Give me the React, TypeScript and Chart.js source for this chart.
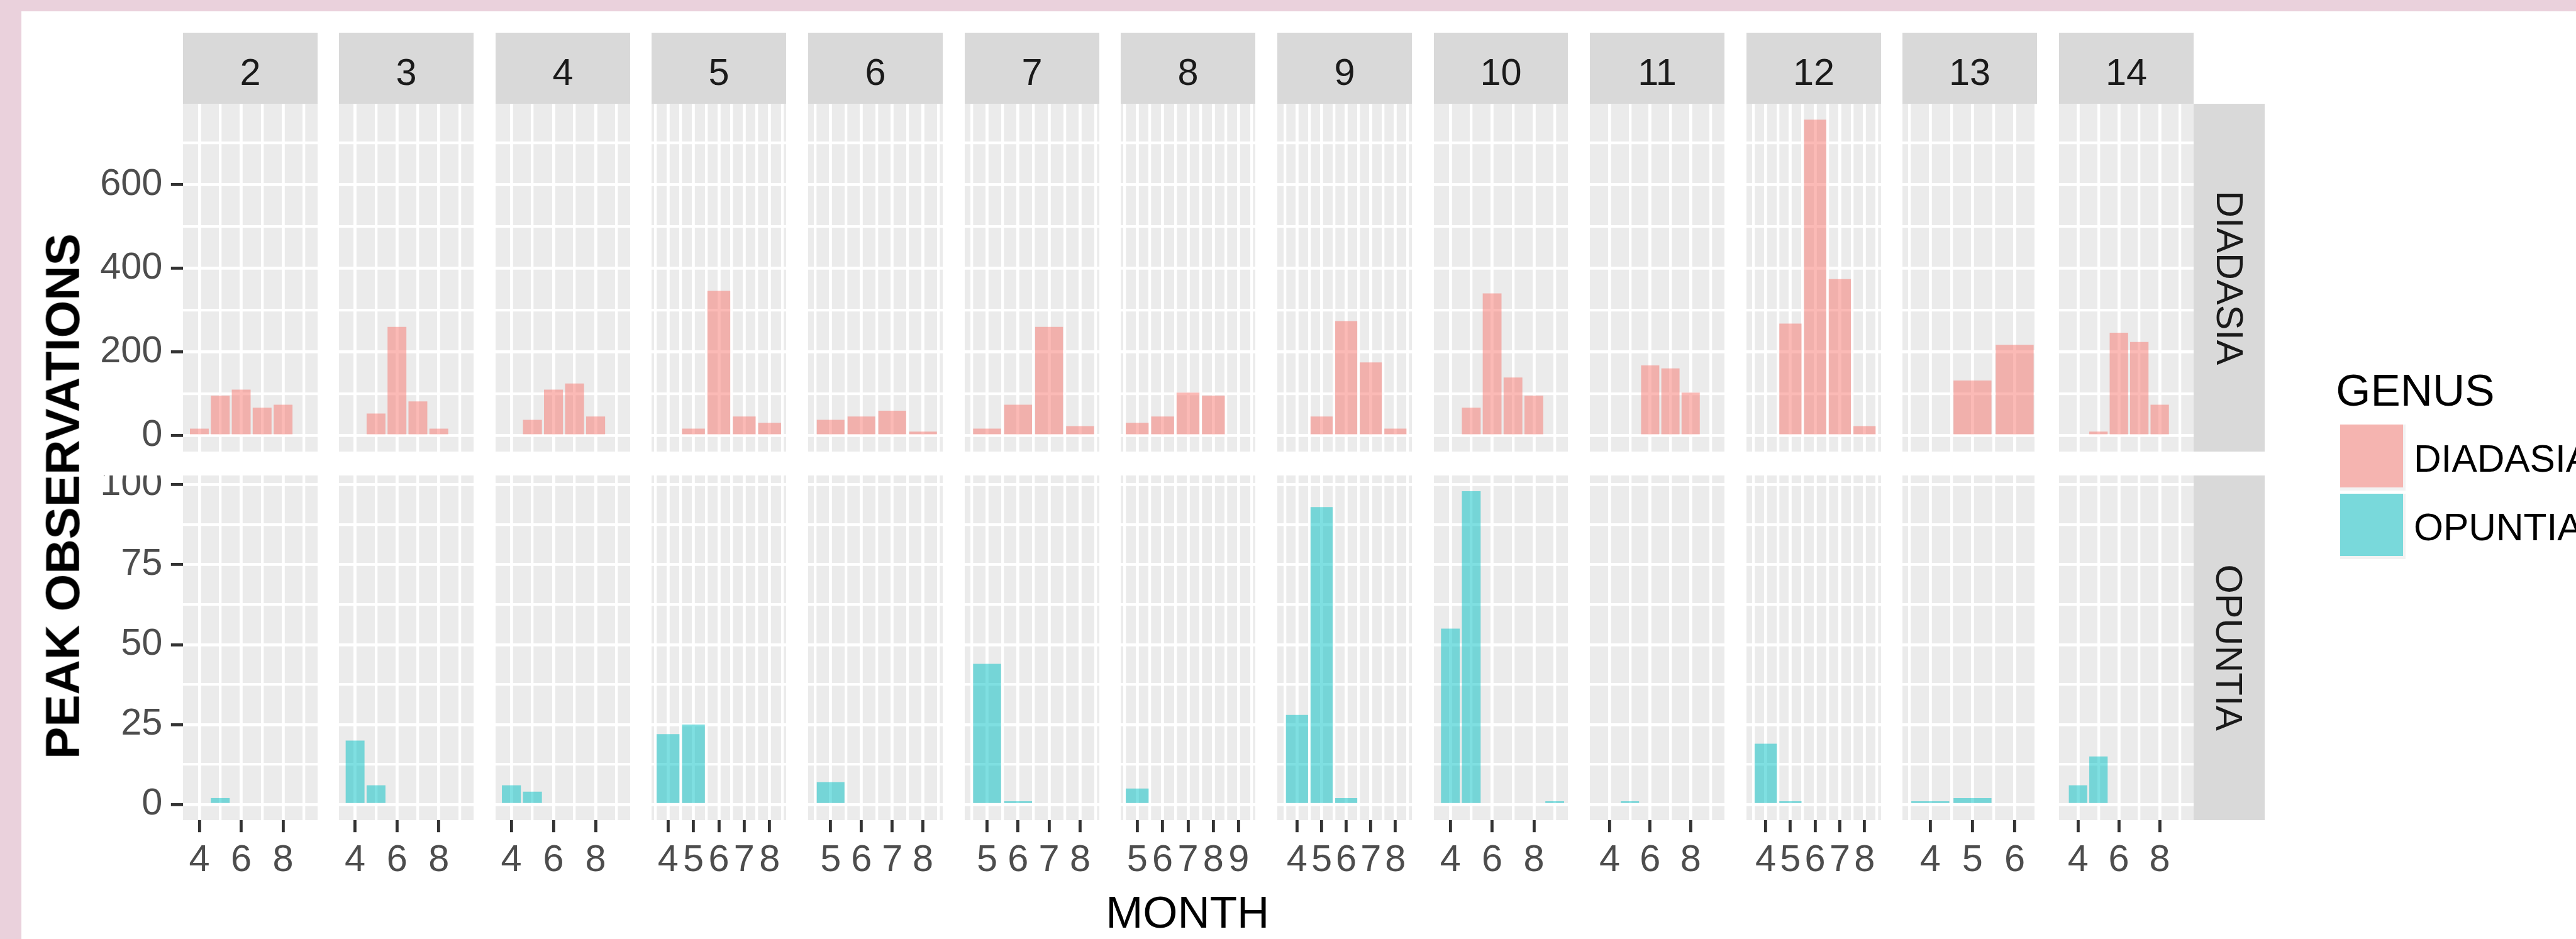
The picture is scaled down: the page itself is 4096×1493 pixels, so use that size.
import React, { useEffect, useRef } from "react";
import { Chart, registerables } from "chart.js";

Chart.register(...registerables);

// ---------------- data ----------------
const sites = ["2", "3", "4", "5", "6", "7", "8", "9", "10", "11", "12", "13", "14"];
const genera = ["DIADASIA", "OPUNTIA"];

// months shown in each site's panel
const siteMonths: number[][] = [
  [4, 5, 6, 7, 8, 9], // 2
  [4, 5, 6, 7, 8, 9], // 3
  [4, 5, 6, 7, 8, 9], // 4
  [4, 5, 6, 7, 8], // 5
  [5, 6, 7, 8], // 6
  [5, 6, 7, 8], // 7
  [5, 6, 7, 8, 9], // 8
  [4, 5, 6, 7, 8], // 9
  [4, 5, 6, 7, 8, 9], // 10
  [4, 5, 6, 7, 8, 9], // 11
  [4, 5, 6, 7, 8], // 12
  [4, 5, 6], // 13
  [4, 5, 6, 7, 8, 9], // 14
];

const diadasiaPeaks: number[][] = [
  [17, 96, 110, 67, 74, 0],
  [0, 53, 260, 82, 17, 0],
  [0, 38, 110, 125, 46, 0],
  [0, 17, 346, 46, 31],
  [38, 46, 60, 10],
  [17, 74, 260, 23],
  [31, 46, 103, 96, 0],
  [0, 46, 274, 175, 17],
  [0, 67, 340, 139, 96, 0],
  [0, 0, 168, 161, 103, 0],
  [0, 268, 755, 374, 23],
  [0, 132, 217],
  [0, 10, 246, 224, 74, 0],
];

const opuntiaPeaks: number[][] = [
  [0, 2, 0, 0, 0, 0],
  [20, 6, 0, 0, 0, 0],
  [6, 4, 0, 0, 0, 0],
  [22, 25, 0, 0, 0],
  [7, 0, 0, 0],
  [44, 1, 0, 0],
  [5, 0, 0, 0, 0],
  [28, 93, 2, 0, 0],
  [55, 98, 0, 0, 0, 1],
  [0, 1, 0, 0, 0, 0],
  [19, 1, 0, 0, 0],
  [1, 2, 0],
  [6, 15, 0, 0, 0, 0],
];

// month-axis limits of each column
const monthAxisLimits: [number, number][] = [
  [3.22, 9.65],
  [3.23, 9.66],
  [3.25, 9.64],
  [3.35, 8.65],
  [4.27, 8.64],
  [4.28, 8.62],
  [4.35, 9.65],
  [3.2, 8.67],
  [3.21, 9.63],
  [3.02, 9.67],
  [3.22, 8.67],
  [3.34, 6.53],
  [3.07, 9.66],
];

// month tick labels of each column
const monthBreaks: number[][] = [
  [4, 6, 8],
  [4, 6, 8],
  [4, 6, 8],
  [4, 5, 6, 7, 8],
  [5, 6, 7, 8],
  [5, 6, 7, 8],
  [5, 6, 7, 8, 9],
  [4, 5, 6, 7, 8],
  [4, 6, 8],
  [4, 6, 8],
  [4, 5, 6, 7, 8],
  [4, 5, 6],
  [4, 6, 8],
];

const diadasiaBreaks = [0, 200, 400, 600];
const opuntiaBreaks = [0, 25, 50, 75, 100];

// ---------------- styling / layout ----------------
const S = 4096 / 4270;
const p = (v: number) => v * S;
const FONT = '"Liberation Sans", Arial, Helvetica, sans-serif';
const genusColors = ["rgba(248,118,109,0.5)", "rgba(0,191,196,0.5)"];

const colLeft = (i: number) => 303 + i * 259.17;
const PANEL_W = 223;
const ROW_TOP = [172.5, 788];
const ROW_H = [575.5, 571];
const STRIP_TOP = 54;
const RSTRIP_W = 118;

const LW = Math.round(p(165));
const BH = Math.round(p(110));

const panelBg = {
  id: "panelBg",
  beforeDraw(chart: any) {
    const { ctx, chartArea: a } = chart;
    ctx.save();
    ctx.fillStyle = "#EBEBEB";
    ctx.fillRect(a.left, a.top, a.right - a.left, a.bottom - a.top);
    ctx.restore();
  },
};

const zeroPad = (s: any) => {
  s.paddingLeft = 0;
  s.paddingRight = 0;
  s.paddingTop = 0;
  s.paddingBottom = 0;
};

function minorOf(majors: number[], lo: number, hi: number) {
  const step = majors[1] - majors[0];
  return [majors[0] - step / 2, ...majors.map((v) => v + step / 2)].filter((v) => v > lo && v < hi);
}

function panelConfig(col: number, row: number): any {
  const months = siteMonths[col];
  const table = row === 0 ? diadasiaPeaks : opuntiaPeaks;
  const vals = table[col];
  const rowMax = Math.max(...table.map((r) => Math.max(...r)));
  const yMin = -0.05 * rowMax;
  const yMax = 1.05 * rowMax;
  const [xMin, xMax] = monthAxisLimits[col];
  const xMaj = monthBreaks[col];
  const xMinors = minorOf(xMaj, xMin, xMax);
  const yMaj = row === 0 ? diadasiaBreaks : opuntiaBreaks;
  const yMinors = minorOf(yMaj, yMin, yMax);
  const first = col === 0;
  const bottom = row === 1;
  const tickFont = { family: FONT, size: p(62) };

  return {
    type: "bar",
    data: {
      datasets: [
        {
          label: genera[row],
          data: months.map((m, i) => ({ x: m, y: vals[i] })),
          backgroundColor: genusColors[row],
          borderWidth: 0,
          barPercentage: 0.9,
          categoryPercentage: 1,
          xAxisID: "x",
          yAxisID: "y",
        },
      ],
    },
    options: {
      responsive: false,
      maintainAspectRatio: false,
      animation: false,
      devicePixelRatio: 1,
      events: [],
      layout: { padding: 0 },
      plugins: {
        legend: { display: false },
        tooltip: { enabled: false },
        title: { display: false },
      },
      scales: {
        xMinor: {
          type: "linear",
          position: "bottom",
          min: xMin,
          max: xMax,
          bounds: "data",
          offset: false,
          afterBuildTicks: (s: any) => {
            s.ticks = xMinors.map((v) => ({ value: v }));
          },
          afterFit: (s: any) => {
            s.height = 0;
            zeroPad(s);
          },
          grid: { color: "#FFFFFF", lineWidth: p(4.5), offset: false, drawTicks: false },
          border: { display: false },
          ticks: { display: false },
        },
        yMinor: {
          type: "linear",
          position: "left",
          min: yMin,
          max: yMax,
          bounds: "data",
          afterBuildTicks: (s: any) => {
            s.ticks = yMinors.map((v) => ({ value: v }));
          },
          afterFit: (s: any) => {
            s.width = 0;
            zeroPad(s);
          },
          grid: { color: "#FFFFFF", lineWidth: p(4.5), drawTicks: false },
          border: { display: false },
          ticks: { display: false },
        },
        x: {
          type: "linear",
          position: "bottom",
          min: xMin,
          max: xMax,
          bounds: "data",
          offset: false,
          afterBuildTicks: (s: any) => {
            s.ticks = xMaj.map((v) => ({ value: v }));
          },
          afterFit: (s: any) => {
            s.height = bottom ? BH : 0;
            zeroPad(s);
          },
          grid: {
            color: "#FFFFFF",
            lineWidth: p(5),
            offset: false,
            drawTicks: bottom,
            tickLength: p(20),
            tickWidth: p(5),
            tickColor: "#333333",
          },
          border: { display: false },
          ticks: {
            display: bottom,
            autoSkip: false,
            maxRotation: 0,
            minRotation: 0,
            padding: p(10),
            color: "#4D4D4D",
            font: tickFont,
            callback: (v: any) => String(v),
          },
        },
        y: {
          type: "linear",
          position: "left",
          min: yMin,
          max: yMax,
          bounds: "data",
          afterBuildTicks: (s: any) => {
            s.ticks = yMaj.map((v) => ({ value: v }));
          },
          afterFit: (s: any) => {
            s.width = first ? LW : 0;
            zeroPad(s);
          },
          grid: {
            color: "#FFFFFF",
            lineWidth: p(5),
            drawTicks: first,
            tickLength: p(20),
            tickWidth: p(5),
            tickColor: "#333333",
          },
          border: { display: false },
          ticks: {
            display: first,
            autoSkip: false,
            padding: p(14),
            color: "#4D4D4D",
            font: tickFont,
            callback: (v: any) => String(v),
          },
        },
      },
    },
    plugins: [panelBg],
  };
}

type Panel = { col: number; row: number; left: number; top: number; w: number; h: number };

const panels: Panel[] = [];
for (let row = 0; row < 2; row++) {
  for (let col = 0; col < sites.length; col++) {
    const L = Math.round(p(colLeft(col)));
    const R = Math.round(p(colLeft(col) + PANEL_W));
    const T = Math.round(p(ROW_TOP[row]));
    const B = Math.round(p(ROW_TOP[row] + ROW_H[row]));
    const cl = col === 0 ? L - LW : L;
    panels.push({ col, row, left: cl, top: T, w: R - cl, h: B - T + (row === 1 ? BH : 0) });
  }
}

export default function App() {
  const refs = useRef<(HTMLCanvasElement | null)[]>([]);

  useEffect(() => {
    const charts: Chart[] = [];
    panels.forEach((pn, k) => {
      const cv = refs.current[k];
      if (!cv) return;
      charts.push(new Chart(cv, panelConfig(pn.col, pn.row)));
    });
    return () => charts.forEach((c) => c.destroy());
  }, []);

  const pink = "#EAD1DC";
  const stripTop = Math.round(p(STRIP_TOP));
  const stripBottom = Math.round(p(ROW_TOP[0]));
  const rsLeft = Math.round(p(colLeft(12) + PANEL_W));
  const rsRight = Math.round(p(colLeft(12) + PANEL_W + RSTRIP_W));

  return (
    <div
      style={{
        position: "absolute",
        left: 0,
        top: 0,
        width: 4096,
        height: 1493,
        background: "#FFFFFF",
        overflow: "hidden",
        fontFamily: FONT,
      }}
    >
      {/* pink frame */}
      <div style={{ position: "absolute", left: 0, top: 0, width: p(35), height: "100%", background: pink }} />
      <div style={{ position: "absolute", left: 0, top: 0, width: "100%", height: p(19), background: pink }} />

      {/* top strips */}
      {sites.map((s, i) => {
        const L = Math.round(p(colLeft(i)));
        const R = Math.round(p(colLeft(i) + PANEL_W));
        return (
          <div
            key={"st" + s}
            style={{
              position: "absolute",
              left: L,
              top: stripTop,
              width: R - L,
              height: stripBottom - stripTop,
              background: "#D9D9D9",
              display: "flex",
              alignItems: "center",
              justifyContent: "center",
              boxSizing: "border-box",
              paddingTop: p(14),
              color: "#1A1A1A",
              fontSize: p(62),
              lineHeight: 1,
            }}
          >
            {s}
          </div>
        );
      })}

      {/* right strips */}
      {genera.map((g, r) => {
        const T = Math.round(p(ROW_TOP[r]));
        const B = Math.round(p(ROW_TOP[r] + ROW_H[r]));
        return (
          <div
            key={"rs" + g}
            style={{
              position: "absolute",
              left: rsLeft,
              top: T,
              width: rsRight - rsLeft,
              height: B - T,
              background: "#D9D9D9",
              display: "flex",
              alignItems: "center",
              justifyContent: "center",
              color: "#1A1A1A",
              fontSize: p(62),
              lineHeight: 1,
            }}
          >
            <span style={{ display: "inline-block", whiteSpace: "nowrap", transform: "rotate(90deg)" }}>{g}</span>
          </div>
        );
      })}

      {/* panels */}
      {panels.map((pn, k) => (
        <canvas
          key={"cv" + k}
          ref={(el) => {
            refs.current[k] = el;
          }}
          width={pn.w}
          height={pn.h}
          style={{ position: "absolute", left: pn.left, top: pn.top, width: pn.w, height: pn.h }}
        />
      ))}

      {/* y title */}
      <div
        style={{
          position: "absolute",
          left: p(104),
          top: p(822),
          transform: "translate(-50%, -50%) rotate(-90deg)",
          whiteSpace: "nowrap",
          fontWeight: "bold",
          fontSize: p(80),
          lineHeight: 1,
          color: "#000000",
        }}
      >
        PEAK OBSERVATIONS
      </div>

      {/* x title */}
      <div
        style={{
          position: "absolute",
          left: p(1968.5),
          top: p(1512),
          transform: "translate(-50%, -50%)",
          whiteSpace: "nowrap",
          fontSize: p(74),
          lineHeight: 1,
          color: "#000000",
        }}
      >
        MONTH
      </div>

      {/* legend */}
      <div
        style={{
          position: "absolute",
          left: p(3872),
          top: p(646),
          transform: "translateY(-50%)",
          whiteSpace: "nowrap",
          fontSize: p(74),
          lineHeight: 1,
          color: "#000000",
        }}
      >
        GENUS
      </div>
      {genera.map((g, r) => {
        const top = r === 0 ? 704 : 818;
        return (
          <React.Fragment key={"lg" + g}>
            <div
              style={{
                position: "absolute",
                left: p(3879),
                top: p(top),
                width: p(109),
                height: p(109),
                background: "#F2F2F2",
              }}
            >
              <div style={{ width: p(104), height: p(104), background: genusColors[r] }} />
            </div>
            <div
              style={{
                position: "absolute",
                left: p(4001),
                top: p(top + 56),
                transform: "translateY(-50%)",
                whiteSpace: "nowrap",
                fontSize: p(63),
                lineHeight: 1,
                color: "#000000",
              }}
            >
              {g}
            </div>
          </React.Fragment>
        );
      })}
    </div>
  );
}
